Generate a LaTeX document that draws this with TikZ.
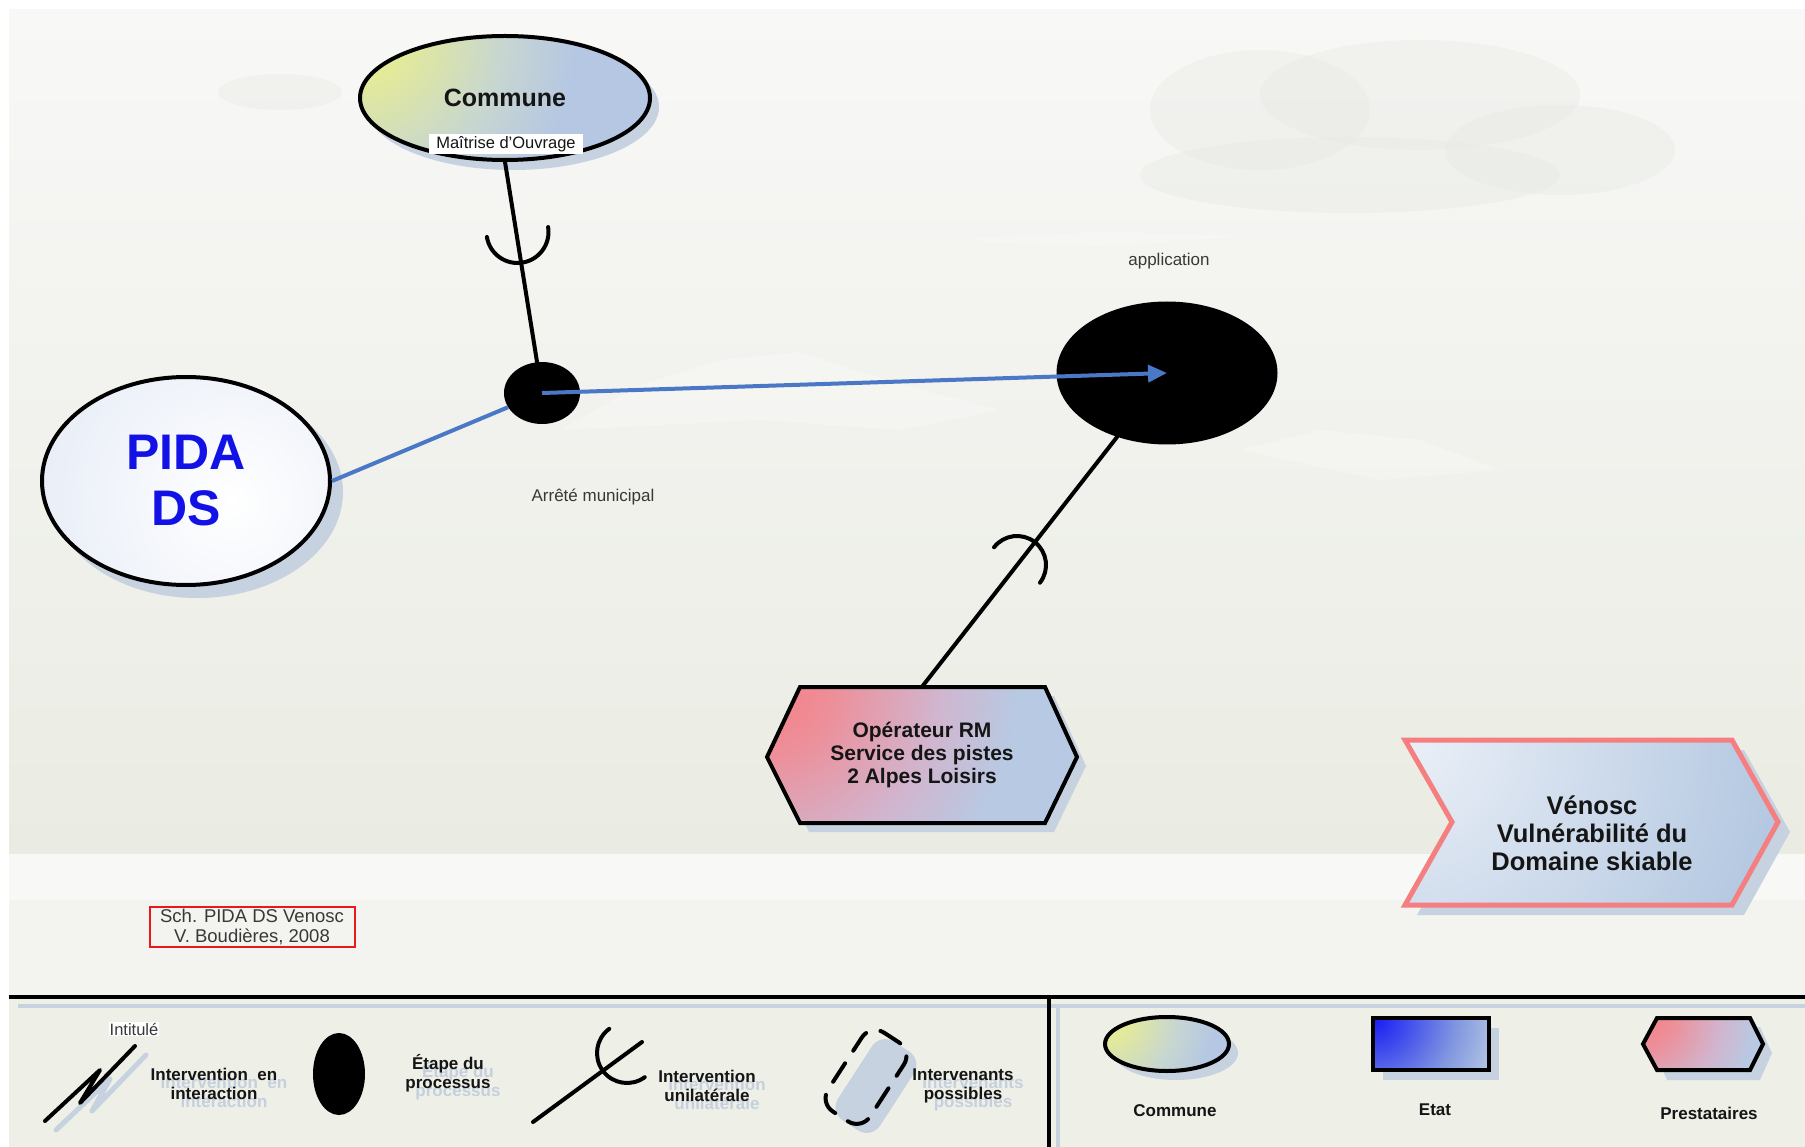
\documentclass[tikz,border=0pt]{standalone}
\usepackage{fontspec}
\setmainfont{Liberation Sans}
\usetikzlibrary{arrows.meta,calc,shapes.geometric}
\definecolor{txt}{HTML}{151515}
\definecolor{shd}{HTML}{C6D2DF}
\definecolor{lnblue}{HTML}{4A78C6}
\definecolor{pidablue}{HTML}{1212E6}
\definecolor{lblue}{HTML}{B3C7E2}
\definecolor{chevedge}{HTML}{F47E80}
\definecolor{bgtop}{HTML}{F8F8F7}
\definecolor{bgmid}{HTML}{F0F1EB}
\definecolor{bgbot}{HTML}{EAECE3}
\definecolor{band}{HTML}{F8F8F6}
\definecolor{band2}{HTML}{F3F4EF}
\definecolor{legbg}{HTML}{EEF0E8}
\definecolor{shtext}{HTML}{C4D0DD}
\definecolor{schred}{HTML}{E8181C}
\definecolor{pidaedge}{HTML}{DCE4F3}
\definecolor{cloud}{HTML}{E6E8E1}
\pgfdeclareradialshading{shYB}{\pgfpoint{0bp}{0bp}}{rgb(0bp)=(0.93,0.95,0.55); rgb(4.5bp)=(0.88,0.91,0.62); rgb(12bp)=(0.78,0.84,0.82); rgb(18bp)=(0.71,0.78,0.89); rgb(50bp)=(0.71,0.78,0.89)}
\pgfdeclareradialshading{shRB}{\pgfpoint{0bp}{0bp}}{rgb(0bp)=(0.96,0.50,0.52); rgb(5bp)=(0.93,0.56,0.60); rgb(13bp)=(0.82,0.71,0.81); rgb(19bp)=(0.72,0.79,0.89); rgb(50bp)=(0.71,0.79,0.89)}
\pgfdeclareradialshading{shBB}{\pgfpoint{0bp}{0bp}}{rgb(0bp)=(0.10,0.10,0.96); rgb(5bp)=(0.25,0.30,0.93); rgb(12bp)=(0.50,0.58,0.88); rgb(18bp)=(0.68,0.76,0.89); rgb(50bp)=(0.71,0.79,0.89)}
\pgfdeclareradialshading{shLB}{\pgfpoint{0bp}{0bp}}{rgb(0bp)=(0.92,0.94,0.97); rgb(20bp)=(0.70,0.78,0.88); rgb(50bp)=(0.70,0.78,0.88)}
\newcommand\myfs[2]{\fontsize{#1}{#2}\selectfont}
\begin{document}
\begin{tikzpicture}[x=1pt,y=-1pt,
  thickline/.style={line width=4pt, black, line cap=round},
  lab/.style={font=\myfs{17}{18.5}\bfseries, text=txt, align=center, inner sep=0pt},
  shlab/.style={font=\myfs{17}{18.5}\bfseries, text=shtext, align=center, inner sep=0pt},
  note/.style={font=\myfs{17}{19}, text=txt!85, inner sep=0pt},
  cupline/.style={line width=4pt, line cap=round},
  bluelink/.style={lnblue, line width=4pt},
]
\useasboundingbox (0,0) rectangle (1805,1147);
\fill[white] (0,0) rectangle (1805,1147);
% background
\shade[top color=bgtop, middle color=bgmid, bottom color=bgbot] (9,10) rectangle (1805,854);
\fill[band] (9,854) rectangle (1805,900);
\fill[band2] (9,900) rectangle (1805,997);
\fill[legbg] (9,997) rectangle (1805,1147);
% clouds
\begin{scope}[opacity=0.35]
\fill[cloud] (1260,110) ellipse [x radius=110, y radius=60];
\fill[cloud] (1420,95) ellipse [x radius=160, y radius=55];
\fill[cloud] (1560,150) ellipse [x radius=115, y radius=45];
\fill[cloud] (1350,175) ellipse [x radius=210, y radius=38];
\fill[cloud] (280,92) ellipse [x radius=62, y radius=18];
\end{scope}
\begin{scope}[opacity=0.25]
\fill[white] (560,430) -- (640,385) -- (720,360) -- (800,352) -- (860,372) -- (940,395) -- (1000,410) -- (900,430) -- (760,420) -- cycle;
\fill[white] (1240,450) -- (1320,430) -- (1420,440) -- (1500,470) -- (1380,480) -- cycle;
\fill[white] (950,240) -- (1100,232) -- (1250,236) -- (1100,246) -- cycle;
\end{scope}

% Commune
\fill[shd] (513,107) ellipse [x radius=146, y radius=63];
\node[ellipse, draw, line width=4pt, minimum width=290pt, minimum height=124pt, inner sep=0pt, fill=lblue,
  path picture={\shade[shading=shYB] (path picture bounding box.north west) circle (300);},
  font=\myfs{25}{28}\bfseries, text=txt] (commune) at (505,98) {Commune};
\node[fill=white, font=\myfs{16.5}{19}, text=txt, inner xsep=7pt, inner ysep=2pt] (moa) at (506,144) {Maîtrise d’Ouvrage};

% PIDA DS
\fill[shd] (197,492) ellipse [x radius=146, y radius=106];
\node[ellipse, draw, line width=4pt, minimum width=288pt, minimum height=208pt, inner sep=0pt, fill=pidaedge,
  path picture={\shade[inner color=white, outer color=pidaedge] ($(path picture bounding box.center)+(45,20)$) circle (300);},
  font=\myfs{50}{56}\bfseries, text=pidablue, align=center] (pida) at (186,481) {PIDA\\DS};

% process steps
\node[ellipse, fill=black, minimum width=76pt, minimum height=62pt, inner sep=0pt] (etape1) at (542,393) {};
\node[ellipse, fill=black, minimum width=221pt, minimum height=143pt, inner sep=0pt] (app) at (1167,373) {};

% Operateur hexagon
\fill[shd] (776,766) -- (809,696) -- (1054,696) -- (1086,766) -- (1054,832) -- (809,832) -- cycle;
\path[draw=black, line width=4pt, fill=lblue,
  path picture={\shade[shading=shRB] (path picture bounding box.north west) circle (330);}]
  (767,757) -- (800,687) -- (1045,687) -- (1077,757) -- (1045,823) -- (800,823) -- cycle;
\node[minimum width=310pt, minimum height=136pt, inner sep=0pt, font=\myfs{21}{23}\bfseries, text=txt, align=center] (oper) at (922,755) {Opérateur RM\\Service des pistes\\2 Alpes Loisirs};

% connectors
\draw[thickline] (commune.south) -- (etape1);
\draw[cupline] ($(517.5,232)+(-9.2:31)$) arc[start angle=-9.2, end angle=170.8, radius=31];
\draw[thickline] (oper.north) -- (app);
\draw[cupline] ($(1017,565)+(-142.3:29)$) arc[start angle=-142.3, end angle=37.7, radius=29];
\draw[bluelink] (pida.east) -- (etape1);
\draw[bluelink, -{Triangle[length=19pt,width=17pt]}] (etape1.center) -- (app.center);

% labels
\node[note] (lblapp) at (1169,261) {application};
\node[note] (lblarr) at (593,497) {Arrêté municipal};

% Venosc chevron
\fill[shd] (1417,750) -- (1744,750) -- (1790,832) -- (1744,915) -- (1417,915) -- (1464,832) -- cycle;
\path[draw=chevedge, line width=5pt, fill=lblue,
  path picture={\shade[shading=shLB] (path picture bounding box.north west) circle (480);}]
  (1405,740) -- (1732,740) -- (1778,822) -- (1732,905) -- (1405,905) -- (1452,822) -- cycle;
\node[font=\myfs{25.5}{28}\bfseries, text=txt, align=center, inner sep=0pt] (venosc) at (1592,833) {Vénosc\\Vulnérabilité du\\Domaine skiable};

% credit box
\node[draw=schred, line width=2pt, font=\myfs{18.5}{19.5}, text=txt!85, align=center, inner xsep=6pt, inner ysep=2pt, minimum width=205pt, minimum height=40pt] (sch) at (252,927) {Sch. PIDA DS Venosc\\V. Boudières, 2008};

% legend frame
\draw[shd, line width=4pt] (18,1006) -- (1805,1006);
\draw[shd, line width=4pt] (1058,1006) -- (1058,1147);
\draw[line width=4pt] (9,997) -- (1805,997);
\draw[line width=4pt] (1049,997) -- (1049,1147);

% legend: interaction
\node[fill=white, font=\myfs{16.5}{18}, text=txt!85, inner xsep=1pt, inner ysep=1pt] (intitule) at (134,1029) {Intitulé};
\draw[shd, line width=5pt, line cap=round, line join=round] (56,1130) -- (110,1079) -- (92,1111) -- (146,1055);
\draw[thickline, line join=round] (45,1121) -- (100,1070) -- (80,1103) -- (135,1046);
\node[shlab] at (224,1092) {Intervention\ \ en\\interaction};
\node[lab] (lg1) at (214,1084) {Intervention\ \ en\\interaction};

% legend: etape
\node[ellipse, fill=black, minimum width=52pt, minimum height=82pt, inner sep=0pt] (lg2) at (339,1074) {};
\node[shlab] at (458,1081) {Étape du\\processus};
\node[lab] (lg2t) at (448,1073) {Étape du\\processus};

% legend: unilateral
\draw[thickline] (533,1122) -- (642,1042);
\draw[cupline] ($(627,1053)+(53.7:30)$) arc[start angle=53.7, end angle=233.7, radius=30];
\node[shlab] at (717,1094) {Intervention\\unilatérale};
\node[lab] (lg3) at (707,1086) {Intervention\\unilatérale};

% legend: possible
\node[rectangle, rounded corners=16pt, minimum width=50pt, minimum height=94pt, fill=shd, rotate=-33, inner sep=0pt] at (876,1086) {};
\node[rectangle, rounded corners=16pt, minimum width=50pt, minimum height=94pt, draw, line width=4pt, dash pattern=on 22pt off 15pt, line cap=round, rotate=-33, inner sep=0pt] (lg4) at (866,1077) {};
\node[shlab] at (973,1094) {Intervenants\\possibles};
\node[lab] (lg4t) at (963,1086) {Intervenants\\possibles};

% legend: actors
\fill[shd] (1176,1053) ellipse [x radius=62, y radius=27];
\node[ellipse, draw, line width=4pt, minimum width=124pt, minimum height=54pt, inner sep=0pt, fill=lblue,
  path picture={\shade[shading=shYB] (path picture bounding box.north west) circle (150);}] (lg5) at (1167,1044) {};
\node[lab] (lg5t) at (1175,1111) {Commune};

\fill[shd] (1383,1028) rectangle (1499,1080);
\node[draw, line width=4pt, minimum width=116pt, minimum height=52pt, inner sep=0pt, fill=lblue,
  path picture={\shade[shading=shBB] (path picture bounding box.north west) circle (170);}] (lg6) at (1431,1044) {};
\node[lab] (lg6t) at (1435,1110) {Etat};

\fill[shd] (1667,1027) -- (1760,1027) -- (1772,1053) -- (1760,1080) -- (1667,1080) -- (1655,1053) -- cycle;
\path[draw=black, line width=4pt, fill=lblue,
  path picture={\shade[shading=shRB] (path picture bounding box.north west) circle (150);}]
  (1657,1018) -- (1750,1018) -- (1763,1044) -- (1750,1070) -- (1657,1070) -- (1643,1044) -- cycle;
\node[lab] (lg7t) at (1709,1113) {Prestataires};
\end{tikzpicture}
\end{document}
